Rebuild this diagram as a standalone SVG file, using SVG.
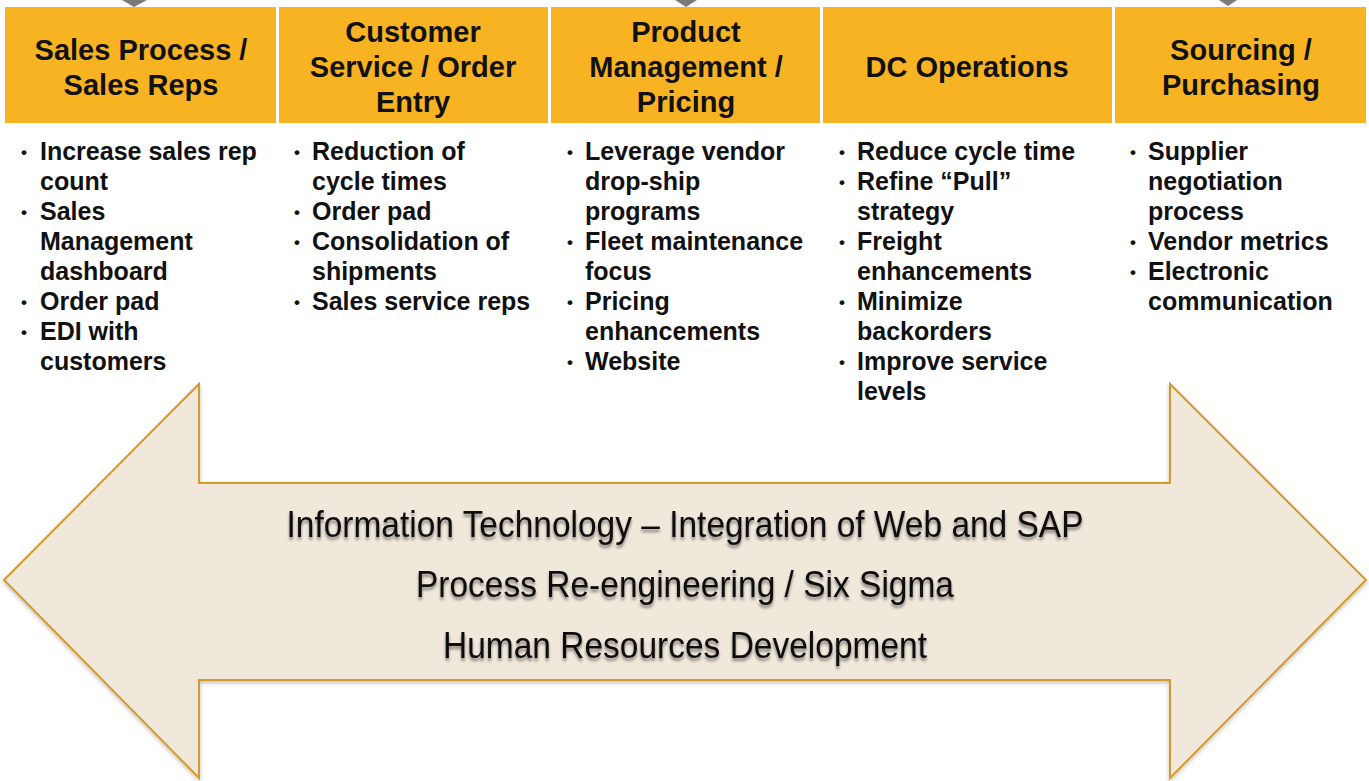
<svg xmlns="http://www.w3.org/2000/svg" width="1369" height="781" viewBox="0 0 1369 781">
<defs>
<filter id="ashadow" x="-5%" y="-5%" width="110%" height="115%">
<feGaussianBlur in="SourceAlpha" stdDeviation="2"/>
<feOffset dx="0" dy="2" result="b"/>
<feComponentTransfer><feFuncA type="linear" slope="0.25"/></feComponentTransfer>
<feMerge><feMergeNode/><feMergeNode in="SourceGraphic"/></feMerge>
</filter>
<filter id="tshadow" x="-5%" y="-30%" width="110%" height="170%">
<feGaussianBlur in="SourceAlpha" stdDeviation="1.8"/>
<feOffset dx="0" dy="3" result="b"/>
<feComponentTransfer><feFuncA type="linear" slope="0.45"/></feComponentTransfer>
<feMerge><feMergeNode/><feMergeNode in="SourceGraphic"/></feMerge>
</filter>
</defs>
<style>
.hdr{fill:#F7B321;}
.htxt{font-family:"Liberation Sans",Arial,sans-serif;font-weight:bold;font-size:29px;fill:#111;text-anchor:middle;}
.btxt{font-family:"Liberation Sans",Arial,sans-serif;font-weight:bold;font-size:25px;fill:#111;}
.bul{font-family:"Liberation Sans",Arial,sans-serif;font-weight:bold;font-size:17px;fill:#111;}
.atxt{font-family:"Liberation Sans",Arial,sans-serif;font-size:36px;fill:#111;text-anchor:middle;}
.tri{fill:#7a7a7a;}
.arrow{fill:#F0E8DB;stroke:#D49A2C;stroke-width:2;}
</style>
<rect width="1369" height="781" fill="#ffffff"/>

<g id="connectors">
<polygon class="tri" points="122,0 147,0 134,7"/>
<polygon class="tri" points="675,0 697,0 686,7"/>
<polygon class="tri" points="1219,0 1237,0 1228,6"/>
</g>

<g id="arrow">
<polygon class="arrow" filter="url(#ashadow)" points="4,580 199,384 199,483 1170,483 1170,384 1366,580 1170,778 1170,680 199,680 199,778"/>
<g filter="url(#tshadow)">
<text class="atxt" x="685" y="537" textLength="797" lengthAdjust="spacingAndGlyphs">Information Technology – Integration of Web and SAP</text>
<text class="atxt" x="685" y="597" textLength="538" lengthAdjust="spacingAndGlyphs">Process Re-engineering / Six Sigma</text>
<text class="atxt" x="685" y="658" textLength="484" lengthAdjust="spacingAndGlyphs">Human Resources Development</text>
</g>
</g>

<g id="col-sales">
<rect class="hdr" x="5" y="7" width="271" height="116"/>
<text class="htxt" x="141" y="60">Sales Process /</text>
<text class="htxt" x="141" y="95">Sales Reps</text>
<text class="bul" x="21" y="158">•</text><text class="btxt" x="40" y="160">Increase sales rep</text>
<text class="btxt" x="40" y="190">count</text>
<text class="bul" x="21" y="218">•</text><text class="btxt" x="40" y="220">Sales</text>
<text class="btxt" x="40" y="250">Management</text>
<text class="btxt" x="40" y="280">dashboard</text>
<text class="bul" x="21" y="308">•</text><text class="btxt" x="40" y="310">Order pad</text>
<text class="bul" x="21" y="338">•</text><text class="btxt" x="40" y="340">EDI with</text>
<text class="btxt" x="40" y="370">customers</text>
</g>

<g id="col-customer">
<rect class="hdr" x="279" y="7" width="269" height="116"/>
<text class="htxt" x="413" y="42">Customer</text>
<text class="htxt" x="413" y="77">Service / Order</text>
<text class="htxt" x="413" y="112">Entry</text>
<text class="bul" x="294" y="158">•</text><text class="btxt" x="312" y="160">Reduction of</text>
<text class="btxt" x="312" y="190">cycle times</text>
<text class="bul" x="294" y="218">•</text><text class="btxt" x="312" y="220">Order pad</text>
<text class="bul" x="294" y="248">•</text><text class="btxt" x="312" y="250">Consolidation of</text>
<text class="btxt" x="312" y="280">shipments</text>
<text class="bul" x="294" y="308">•</text><text class="btxt" x="312" y="310">Sales service reps</text>
</g>

<g id="col-product">
<rect class="hdr" x="551" y="7" width="269" height="116"/>
<text class="htxt" x="686" y="42">Product</text>
<text class="htxt" x="686" y="77">Management /</text>
<text class="htxt" x="686" y="112">Pricing</text>
<text class="bul" x="567" y="158">•</text><text class="btxt" x="585" y="160">Leverage vendor</text>
<text class="btxt" x="585" y="190">drop-ship</text>
<text class="btxt" x="585" y="220">programs</text>
<text class="bul" x="567" y="248">•</text><text class="btxt" x="585" y="250">Fleet maintenance</text>
<text class="btxt" x="585" y="280">focus</text>
<text class="bul" x="567" y="308">•</text><text class="btxt" x="585" y="310">Pricing</text>
<text class="btxt" x="585" y="340">enhancements</text>
<text class="bul" x="567" y="368">•</text><text class="btxt" x="585" y="370">Website</text>
</g>

<g id="col-dc">
<rect class="hdr" x="823" y="7" width="289" height="116"/>
<text class="htxt" x="967" y="77">DC Operations</text>
<text class="bul" x="839" y="158">•</text><text class="btxt" x="857" y="160">Reduce cycle time</text>
<text class="bul" x="839" y="188">•</text><text class="btxt" x="857" y="190">Refine “Pull”</text>
<text class="btxt" x="857" y="220">strategy</text>
<text class="bul" x="839" y="248">•</text><text class="btxt" x="857" y="250">Freight</text>
<text class="btxt" x="857" y="280">enhancements</text>
<text class="bul" x="839" y="308">•</text><text class="btxt" x="857" y="310">Minimize</text>
<text class="btxt" x="857" y="340">backorders</text>
<text class="bul" x="839" y="368">•</text><text class="btxt" x="857" y="370">Improve service</text>
<text class="btxt" x="857" y="400">levels</text>
</g>

<g id="col-sourcing">
<rect class="hdr" x="1115" y="7" width="251" height="116"/>
<text class="htxt" x="1241" y="60">Sourcing /</text>
<text class="htxt" x="1241" y="95">Purchasing</text>
<text class="bul" x="1130" y="158">•</text><text class="btxt" x="1148" y="160">Supplier</text>
<text class="btxt" x="1148" y="190">negotiation</text>
<text class="btxt" x="1148" y="220">process</text>
<text class="bul" x="1130" y="248">•</text><text class="btxt" x="1148" y="250">Vendor metrics</text>
<text class="bul" x="1130" y="278">•</text><text class="btxt" x="1148" y="280">Electronic</text>
<text class="btxt" x="1148" y="310">communication</text>
</g>
</svg>
